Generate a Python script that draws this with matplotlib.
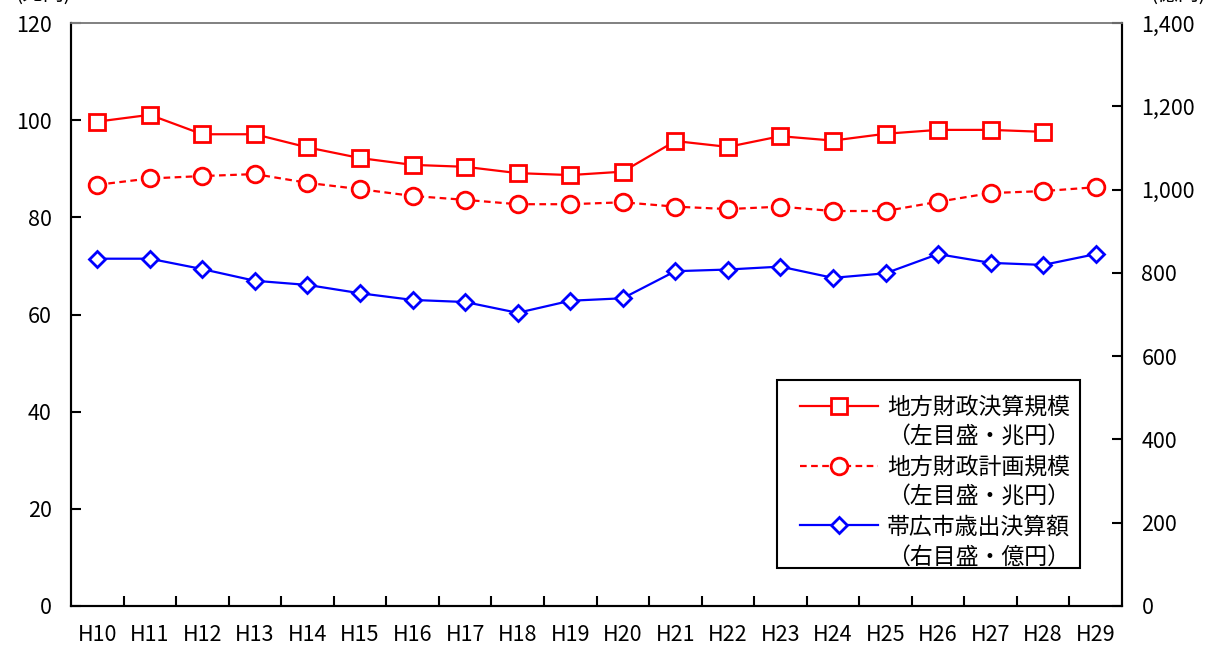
import matplotlib
matplotlib.use('Agg')
import matplotlib.pyplot as plt
from matplotlib.lines import Line2D
from matplotlib.patches import Rectangle
import numpy as np

plt.rcParams['font.family'] = ['Noto Sans CJK JP', 'DejaVu Sans']

years = ['H10', 'H11', 'H12', 'H13', 'H14', 'H15', 'H16', 'H17', 'H18', 'H19',
         'H20', 'H21', 'H22', 'H23', 'H24', 'H25', 'H26', 'H27', 'H28', 'H29']

# 地方財政決算規模 (兆円) - no H29 value
kessan = [99.7, 101.1, 97.1, 97.1, 94.4, 92.2, 90.8, 90.4, 89.1, 88.7,
          89.4, 95.7, 94.5, 96.7, 95.8, 97.2, 98.0, 98.0, 97.6, np.nan]
# 地方財政計画規模 (兆円)
keikaku = [86.7, 88.0, 88.5, 88.9, 87.1, 85.8, 84.4, 83.6, 82.7, 82.7,
           83.1, 82.2, 81.7, 82.2, 81.3, 81.3, 83.2, 85.0, 85.4, 86.2]
# 帯広市歳出決算額 (億円)
obihiro = [834, 834, 809, 781, 771, 751, 735, 730, 704, 733,
           739, 804, 808, 815, 788, 799, 845, 824, 819, 845]

x = np.arange(len(years))

fig = plt.figure(figsize=(12.09, 6.48), dpi=100)
ax = fig.add_axes([71/1209, 1 - 606/648, 1051/1209, 583/648])
ax2 = ax.twinx()

ax.plot(x, kessan, color='#ff0000', lw=1.6, marker='s', ms=11,
        mfc='white', mec='#ff0000', mew=2)
ax.plot(x, keikaku, color='#ff0000', lw=1.6, ls=(0, (3, 2)), marker='o', ms=12,
        mfc='white', mec='#ff0000', mew=2)
ax2.plot(x, obihiro, color='#0000ff', lw=1.6, marker='D', ms=8.5,
         mfc='white', mec='#0000ff', mew=2)

ax.set_xlim(-0.5, len(years) - 0.5)
ax.set_ylim(0, 120)
ax2.set_ylim(0, 1400)
ax.set_yticks(np.arange(0, 121, 20))
ax2.set_yticks(np.arange(0, 1401, 200))
ax2.set_yticklabels([f'{v:,}' for v in range(0, 1401, 200)])

ax.set_xticks(x)
ax.set_xticklabels(years)
ax.set_xticks(np.arange(0.5, len(years) - 1, 1), minor=True)
ax.tick_params(axis='x', which='major', length=0, pad=13, labelsize=15.5)
ax.tick_params(axis='x', which='minor', direction='in', length=7, width=1.5)
ax.tick_params(axis='y', direction='in', length=7, width=1.5, pad=14, labelsize=15.5)
ax2.tick_params(axis='y', direction='in', length=7, width=1.5, pad=14, labelsize=15.5)

for a in (ax, ax2):
    for s in ('left', 'right', 'bottom'):
        a.spines[s].set_linewidth(1.5)
        a.spines[s].set_color('black')
    a.spines['top'].set_color('#808080')
    a.spines['top'].set_linewidth(1.2)

# legend frame drawn separately so the padding can be uneven like the original
ax2.add_patch(Rectangle((0.6717, 0.0652), 0.2883, 0.3225, transform=ax2.transAxes,
                        facecolor='white', edgecolor='black', lw=1.5, zorder=4))

# second line of each label as a blank-handle entry
blank = Line2D([], [], color='none')
h1 = Line2D([], [], color='#ff0000', lw=1.6, marker='s', ms=11, mfc='white', mec='#ff0000', mew=2)
h2 = Line2D([], [], color='#ff0000', lw=1.6, ls=(0, (3, 2)), marker='o', ms=12, mfc='white', mec='#ff0000', mew=2)
h3 = Line2D([], [], color='#0000ff', lw=1.6, marker='D', ms=8.5, mfc='white', mec='#0000ff', mew=2)
handles = [h1, blank, h2, blank, h3, blank]
labels = ['地方財政決算規模', '（左目盛・兆円）',
          '地方財政計画規模', '（左目盛・兆円）',
          '帯広市歳出決算額', '（右目盛・億円）']
leg = ax2.legend(handles, labels, loc='upper left', bbox_to_anchor=(0.6936, 0.3602),
                 borderaxespad=0, fontsize=16.5, handlelength=3.4, handletextpad=0.4,
                 labelspacing=0.3, borderpad=0, frameon=False)
leg.set_zorder(5)

fig.text(15/1209, 1 - 5/648, '(兆円)', fontsize=15, va='bottom', ha='left')
fig.text(1150/1209, 1 - 5/648, '(億円)', fontsize=15, va='bottom', ha='left')

fig.savefig('out.png', dpi=100)
